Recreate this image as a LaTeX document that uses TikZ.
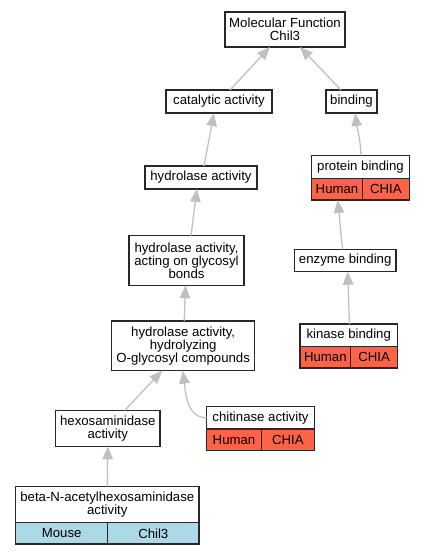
\documentclass[tikz,border=0pt]{standalone}
\usepackage{fontspec}
\setmainfont{Liberation Sans}
\usetikzlibrary{arrows.meta}
\definecolor{humanred}{RGB}{255,99,71}
\definecolor{mouseblue}{RGB}{173,216,230}
\definecolor{edgegray}{RGB}{192,192,192}
\definecolor{bordergray}{RGB}{40,40,40}
\begin{document}
\begin{tikzpicture}[x=1pt,y=1pt,
  box/.style={draw=bordergray, line width=1.4pt, fill=white, inner sep=0pt, outer sep=0pt,
    align=center, font=\fontsize{13.2}{13}\selectfont},
  redcell/.style={box, fill=humanred, anchor=north west},
  bluecell/.style={box, fill=mouseblue, anchor=north west},
  edge/.style={draw=edgegray, line width=1.3pt, -{Triangle[length=13pt,width=10.5pt]}}
]
\useasboundingbox (0,0) rectangle (424,-555);

% nodes
\node[box, minimum width=120pt, minimum height=35pt] (mf) at (285,-29.5) {Molecular Function\\Chil3};
\node[box, minimum width=106pt, minimum height=23pt] (cat) at (219,-101.5) {catalytic activity};
\node[box, minimum width=51pt, minimum height=23pt] (bind) at (351.5,-101.5) {binding};
\node[box, minimum width=112pt, minimum height=23pt] (hyd) at (201,-177.5) {hydrolase activity};

\node[box, minimum width=97.6pt, minimum height=23pt] (prot) at (360.5,-166.8) {protein binding};
\node[redcell, minimum width=50.6pt, minimum height=21.7pt] (protsp) at (prot.south west) {Human};
\node[redcell, minimum width=47pt, minimum height=21.7pt] (protgn) at (protsp.north east) {CHIA};

\node[box, minimum width=115pt, minimum height=49.6pt] (act) at (186.5,-260.5) {hydrolase activity,\\acting on glycosyl\\bonds};
\node[box, minimum width=101.7pt, minimum height=22.4pt] (enz) at (345.2,-260.5) {enzyme binding};
\node[box, minimum width=143pt, minimum height=49.7pt] (hyo) at (183.2,-345.8) {hydrolase activity,\\hydrolyzing\\O-glycosyl compounds};

\node[box, minimum width=97.3pt, minimum height=22.7pt] (kin) at (348.7,-335.3) {kinase binding};
\node[redcell, minimum width=50.7pt, minimum height=21.3pt] (kinsp) at (kin.south west) {Human};
\node[redcell, minimum width=46.6pt, minimum height=21.3pt] (kingn) at (kinsp.north east) {CHIA};

\node[box, minimum width=104.3pt, minimum height=36pt] (hex) at (107.8,-428.3) {hexosaminidase\\activity};

\node[box, minimum width=107.6pt, minimum height=22.3pt] (chit) at (260.5,-417.8) {chitinase activity};
\node[redcell, minimum width=54.6pt, minimum height=21.7pt] (chitsp) at (chit.south west) {Human};
\node[redcell, minimum width=53pt, minimum height=21.7pt] (chitgn) at (chitsp.north east) {CHIA};

\node[box, minimum width=183.3pt, minimum height=36pt] (beta) at (107.3,-504.7) {beta-N-acetylhexosaminidase\\activity};
\node[bluecell, minimum width=92pt, minimum height=21.3pt] (betasp) at (beta.south west) {Mouse};
\node[bluecell, minimum width=91.3pt, minimum height=21.3pt] (betagn) at (betasp.north east) {Chil3};

% edges
\draw[edge] ([xshift=11pt]cat.north) -- ([xshift=-15pt]mf.south);
\draw[edge] ([xshift=-10.5pt]bind.north) -- ([xshift=15pt]mf.south);
\draw[edge] ([xshift=3pt]hyd.north) -- ([xshift=-5pt]cat.south);
\draw[edge] ([xshift=0.5pt]prot.north) to[out=92,in=-82] ([xshift=3.5pt]bind.south);
\draw[edge] ([xshift=4.5pt]act.north) -- ([xshift=-4pt]hyd.south);
\draw[edge] ([xshift=-2.5pt]enz.north) to[out=97,in=-84] ([xshift=0.7pt]protsp.south);
\draw[edge] ([xshift=1pt]hyo.north) -- ([xshift=-1pt]act.south);
\draw[edge] ([xshift=0.7pt]kin.north) to[out=92,in=-88] ([xshift=2.5pt]enz.south);
\draw[edge] ([xshift=17pt]hex.north) -- ([xshift=-21pt]hyo.south);
\draw[edge] (chit.west) to[out=180,in=-82] ([xshift=-0.5pt]hyo.south);
\draw[edge] (beta.north) -- (hex.south);
\end{tikzpicture}
\end{document}
